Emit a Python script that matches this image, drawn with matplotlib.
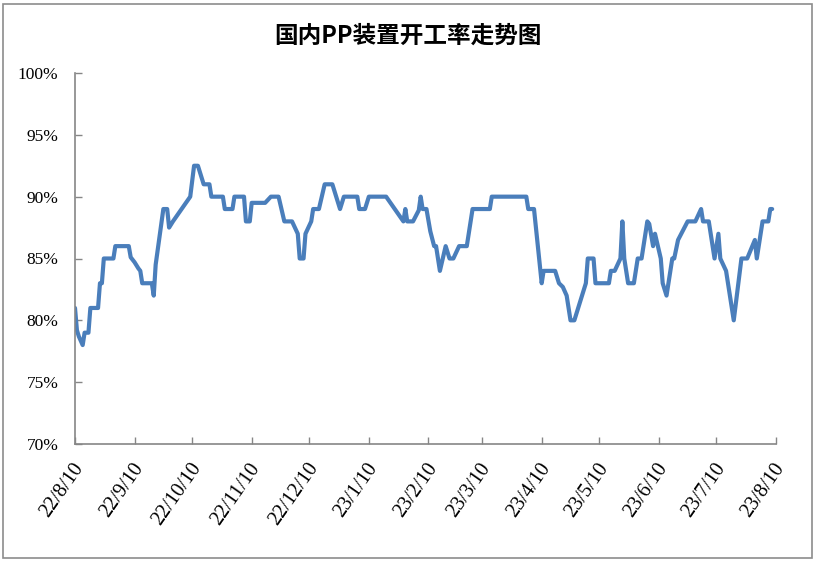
import matplotlib
matplotlib.use("Agg")
import matplotlib.pyplot as plt
import matplotlib.transforms as mtransforms
from matplotlib import font_manager
from matplotlib.patches import Rectangle
from matplotlib.ticker import FuncFormatter, MultipleLocator
import pandas as pd

serif_names = [f.name for f in font_manager.fontManager.ttflist
               if "Serif" in f.name or "Times" in f.name]
plt.rcParams["font.family"] = "serif"
plt.rcParams["font.serif"] = ["Liberation Serif", "Times New Roman", "DejaVu Serif"]

# 开工率 (%)
dates = [
    "2022-08-10", "2022-08-11", "2022-08-12", "2022-08-14", "2022-08-15", "2022-08-17",
    "2022-08-18", "2022-08-22", "2022-08-23", "2022-08-24", "2022-08-25", "2022-08-30",
    "2022-08-31", "2022-09-07", "2022-09-08", "2022-09-10", "2022-09-12", "2022-09-13",
    "2022-09-14", "2022-09-19", "2022-09-20", "2022-09-21", "2022-09-25", "2022-09-27",
    "2022-09-28", "2022-09-30", "2022-10-09", "2022-10-11", "2022-10-13", "2022-10-16",
    "2022-10-19", "2022-10-20", "2022-10-26", "2022-10-27", "2022-10-31", "2022-11-01",
    "2022-11-06", "2022-11-07", "2022-11-09", "2022-11-10", "2022-11-17", "2022-11-20",
    "2022-11-24", "2022-11-27", "2022-12-01", "2022-12-04", "2022-12-05", "2022-12-07",
    "2022-12-08", "2022-12-11", "2022-12-12", "2022-12-15", "2022-12-18", "2022-12-22",
    "2022-12-24", "2022-12-26", "2022-12-28", "2023-01-04", "2023-01-05", "2023-01-08",
    "2023-01-10", "2023-01-19", "2023-01-28", "2023-01-29", "2023-01-30", "2023-02-02",
    "2023-02-05", "2023-02-06", "2023-02-07", "2023-02-09", "2023-02-11", "2023-02-13",
    "2023-02-14", "2023-02-15", "2023-02-16", "2023-02-19", "2023-02-21", "2023-02-23",
    "2023-02-26", "2023-03-02", "2023-03-05", "2023-03-14", "2023-03-15", "2023-04-02",
    "2023-04-03", "2023-04-06", "2023-04-10", "2023-04-11", "2023-04-17", "2023-04-19",
    "2023-04-21", "2023-04-23", "2023-04-25", "2023-04-27", "2023-05-03", "2023-05-04",
    "2023-05-07", "2023-05-08", "2023-05-15", "2023-05-16", "2023-05-18", "2023-05-21",
    "2023-05-22", "2023-05-23", "2023-05-25", "2023-05-28", "2023-05-30", "2023-06-01",
    "2023-06-04", "2023-06-05", "2023-06-07", "2023-06-08", "2023-06-11", "2023-06-12",
    "2023-06-14", "2023-06-17", "2023-06-18", "2023-06-20", "2023-06-25", "2023-06-29",
    "2023-07-02", "2023-07-03", "2023-07-06", "2023-07-09", "2023-07-11", "2023-07-12",
    "2023-07-15", "2023-07-17", "2023-07-19", "2023-07-23", "2023-07-26", "2023-07-30",
    "2023-07-31", "2023-08-03", "2023-08-06", "2023-08-07", "2023-08-08",
]
rate = [
    81, 79.2, 78.7, 78, 79, 79,
    81, 81, 83, 83, 85, 85,
    86, 86, 85.1, 84.7, 84.2, 84,
    83, 83, 82, 84.5, 89, 89,
    87.5, 88, 90, 92.5, 92.5, 91,
    91, 90, 90, 89, 89, 90,
    90, 88, 88, 89.5, 89.5, 90,
    90, 88, 88, 87, 85, 85,
    87, 88, 89, 89, 91, 91,
    90, 89, 90, 90, 89, 89,
    90, 90, 88, 89, 88, 88,
    88.9, 90, 89, 89, 87.2, 86,
    86, 85, 84, 86, 85, 85,
    86, 86, 89, 89, 90, 90,
    89, 89, 83, 84, 84, 83,
    82.7, 82, 80, 80, 83, 85,
    85, 83, 83, 84, 84, 85,
    88, 85, 83, 83, 85, 85,
    88, 87.8, 86, 87, 85, 83,
    82, 85, 85, 86.5, 88, 88,
    89, 88, 88, 85, 87, 85,
    84, 82, 80, 85, 85, 86.5,
    85, 88, 88, 89, 89,
]
tick_dates = pd.date_range("2022-08-01", "2023-08-01", freq="MS") + pd.Timedelta(days=9)

x = pd.to_datetime(dates)

fig = plt.figure(figsize=(8.15, 5.63), dpi=100)
ax = fig.add_axes([75 / 815, 119 / 563, 701 / 815, 371 / 563])

ax.plot(x, rate, color="#4A7EBB", lw=3, solid_joinstyle="round", solid_capstyle="round")

ax.set_xlim(pd.Timestamp("2022-08-10"), pd.Timestamp("2023-08-10"))
ax.set_ylim(70, 100)
ax.yaxis.set_major_locator(MultipleLocator(5))
ax.yaxis.set_major_formatter(FuncFormatter(lambda v, p: f"{v:.0f}%"))

ax.set_xticks(tick_dates)
ax.set_xticklabels([f"{d.year % 100}/{d.month}/{d.day}" for d in tick_dates])

for s in ["top", "right"]:
    ax.spines[s].set_visible(False)
for s in ["left", "bottom"]:
    ax.spines[s].set_color("#868686")
    ax.spines[s].set_linewidth(1.2)

ax.tick_params(axis="both", direction="in", length=5, width=1, color="#868686")
ax.tick_params(axis="y", pad=12, labelsize=12.5)
ax.tick_params(axis="x", pad=15, labelsize=14.5)

offset = mtransforms.ScaledTranslation(5 / 100, 0, fig.dpi_scale_trans)
for lab in ax.get_xticklabels():
    lab.set_rotation(55)
    lab.set_rotation_mode("anchor")
    lab.set_ha("right")
    lab.set_va("center")
    lab.set_transform(lab.get_transform() + offset)

fig.text(0.5, 1 - 36 / 563, "国内PP装置开工率走势图", ha="center", va="center",
         fontsize=17, fontweight="bold", family=["Noto Sans CJK SC", "DejaVu Sans"])

fig.patches.append(Rectangle((3 / 815, 5 / 563), 809 / 815, 554 / 563,
                             transform=fig.transFigure, fill=False,
                             edgecolor="#8C8C8C", lw=1.2))

fig.savefig("out.png", dpi=100)
